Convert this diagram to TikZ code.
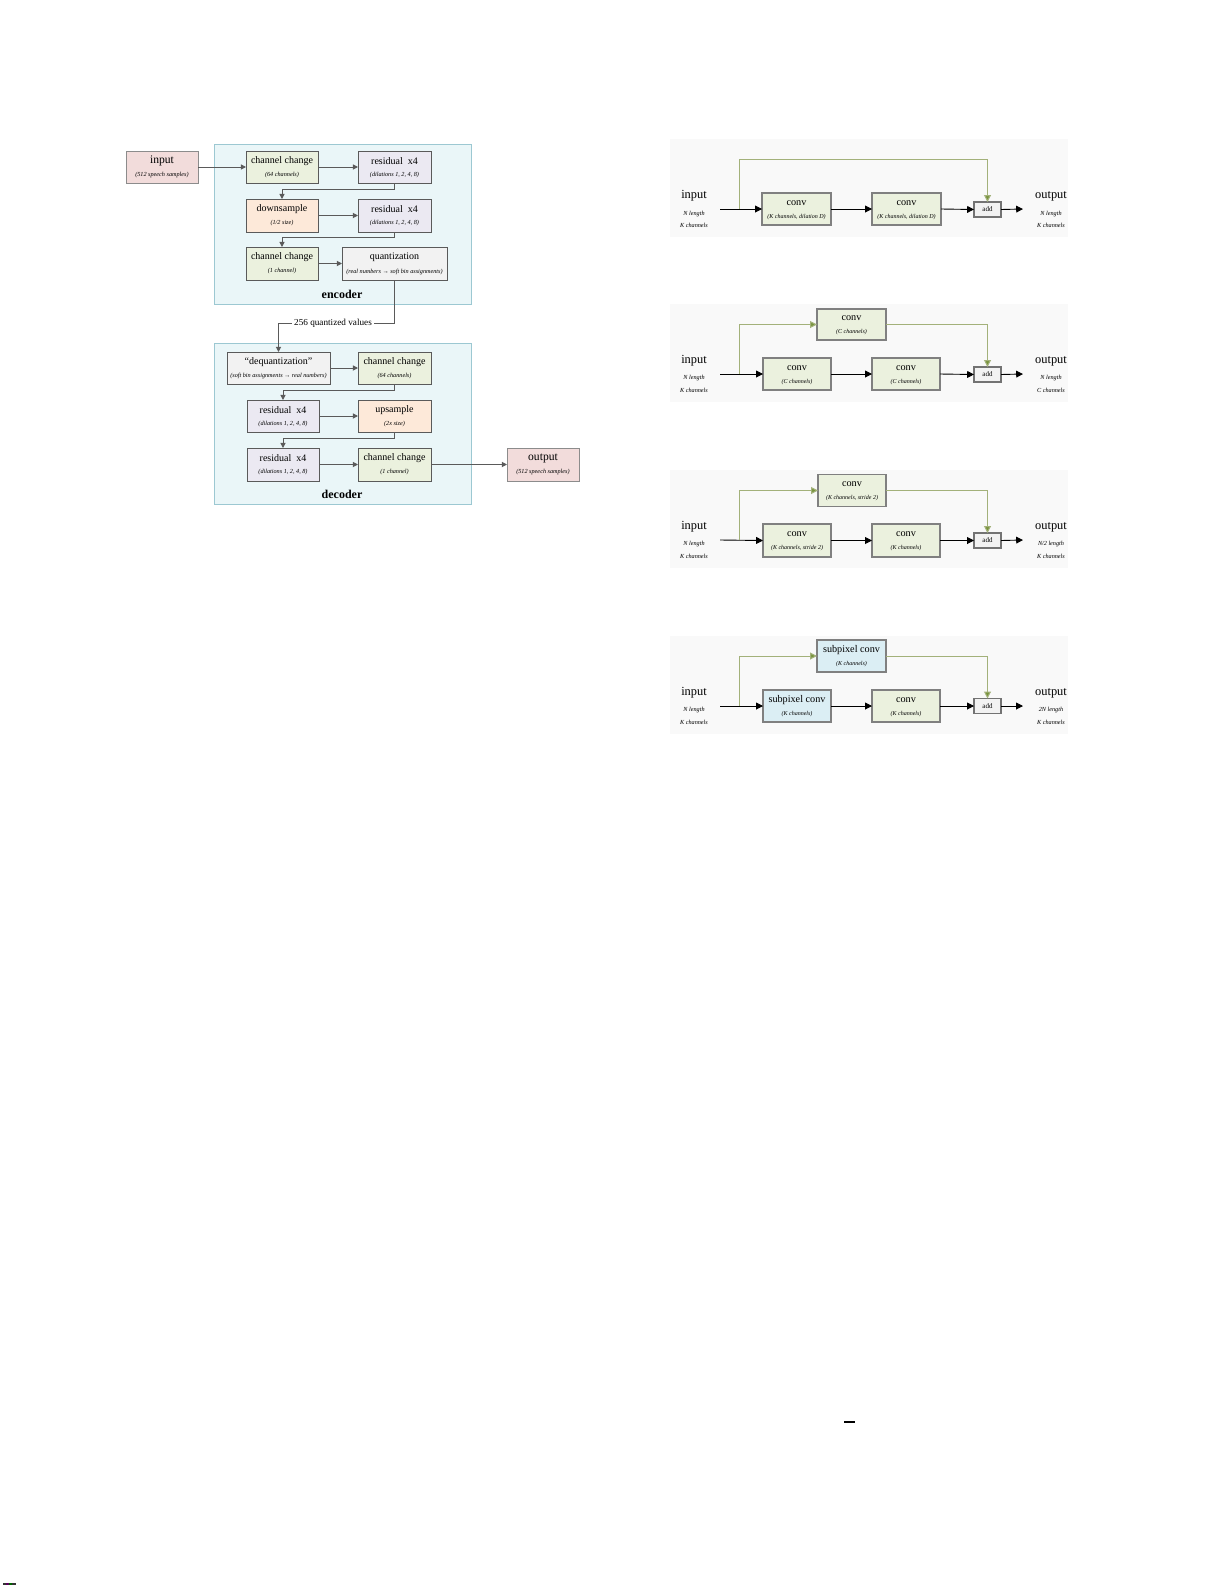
\documentclass[tikz,border=0pt]{standalone}
\usepackage{fontspec}
\setmainfont{Liberation Serif}
\usetikzlibrary{arrows.meta}
\definecolor{cpink}{HTML}{F2DCDB}
\definecolor{cgreen}{HTML}{EBF1DE}
\definecolor{clav}{HTML}{EBE9F2}
\definecolor{cpeach}{HTML}{FDE9D9}
\definecolor{cgray}{HTML}{F2F2F2}
\definecolor{ccont}{HTML}{EAF6F8}
\definecolor{ccontl}{HTML}{9CC8D2}
\definecolor{cblue}{HTML}{DBEEF4}
\definecolor{cline}{HTML}{5A5A5A}
\definecolor{colive}{HTML}{77933C}
\definecolor{colivel}{HTML}{A3B17A}
\definecolor{cpanel}{HTML}{F9F9F9}
\newcommand\fs[1]{\fontsize{#1}{#1}\selectfont}
\tikzset{
  lbox/.style={draw=cline, line width=0.5pt, inner sep=0pt, outer sep=0pt},
  rbox/.style={draw=black!50, line width=0.7pt, inner sep=0pt, outer sep=0pt},
  ltitle/.style={inner sep=0pt, font=\fs{5}},
  lsub/.style={inner sep=0pt, font=\fs{3.1}\itshape},
  rtitle/.style={inner sep=0pt, font=\fs{5.1}},
  rsub/.style={inner sep=0pt, font=\fs{3.0}\itshape},
  biglbl/.style={inner sep=0pt, font=\fs{6.2}},
  smlbl/.style={inner sep=0pt, font=\fs{3.1}\itshape},
  addbox/.style={draw=black!55,fill=cgray,line width=0.6pt,inner sep=0pt,outer sep=0pt,minimum width=27*0.5pt,minimum height=15*0.5pt,font=\fs{3.5}},
  cont/.style={draw=ccontl, fill=ccont, line width=0.5pt, inner sep=0pt, outer sep=0pt},
  larr/.style={draw=cline, line width=0.5pt, -{Triangle[length=2.6pt,width=2.6pt]}},
  lline/.style={draw=cline, line width=0.5pt},
  marr/.style={draw=black, line width=0.45pt, -{Triangle[length=3.4pt,width=3.4pt]}},
  skiparr/.style={draw=colivel, line width=0.5pt, -{Triangle[length=3.4pt,width=3.4pt,fill=colive]}},
}
% name, style, x, y, w, h, title, sub
\newcommand\mkl[8]{%
  \node[lbox,#2,minimum width=#5*0.5pt,minimum height=#6*0.5pt] (#1) at (#3,#4) {};
  \node[ltitle] (#1-t) at (#3,#4-6) {#7};
  \node[lsub] (#1-s) at (#3,#4+8) {#8};
}
\newcommand\mkr[8]{%
  \node[rbox,#2,minimum width=#5*0.5pt,minimum height=#6*0.5pt] (#1) at (#3,#4) {};
  \node[rtitle] (#1-t) at (#3,#4-6) {#7};
  \node[rsub] (#1-s) at (#3,#4+8) {#8};
}
\begin{document}
\begin{tikzpicture}[x=0.5pt,y=-0.5pt]
\useasboundingbox (0,0) rectangle (1225,1585);
\fill[white] (0,0) rectangle (1225,1585);

% ===== left: encoder / decoder =====
\node[cont,minimum width=257*0.5pt,minimum height=160*0.5pt] (enc) at (342.5,224) {};
\node[cont,minimum width=257*0.5pt,minimum height=161*0.5pt] (dec) at (342.5,423.5) {};
\node[inner sep=0pt,font=\fs{6}\bfseries] (enclbl) at (342,294) {encoder};
\node[inner sep=0pt,font=\fs{6}\bfseries] (declbl) at (342,494) {decoder};

\mkl{inp}{fill=cpink,draw=black!45}{162}{167}{72}{32}{\fs{5.8}input}{(512 speech samples)}
\mkl{cc1}{fill=cgreen}{282}{167}{72}{32}{channel change}{(64 channels)}
\mkl{res1}{fill=clav}{394.5}{167}{73}{32}{residual~ x4}{(dilations 1, 2, 4, 8)}
\mkl{dn}{fill=cpeach}{282}{215.5}{72}{33}{downsample}{(1/2 size)}
\mkl{res2}{fill=clav}{394.5}{215.5}{73}{33}{residual~ x4}{(dilations 1, 2, 4, 8)}
\mkl{cc2}{fill=cgreen}{282}{263.5}{72}{33}{channel change}{(1 channel)}
\mkl{qz}{fill=cgray}{394.5}{263.5}{105}{33}{quantization}{(real numbers → soft bin assignments)}

\mkl{dq}{fill=cgray}{278.5}{368}{103}{32}{“dequantization”}{(soft bin assignments → real numbers)}
\mkl{cc3}{fill=cgreen}{394.5}{368}{73}{32}{channel change}{(64 channels)}
\mkl{res3}{fill=clav}{283}{416}{72}{32}{residual~ x4}{(dilations 1, 2, 4, 8)}
\mkl{up}{fill=cpeach}{394.5}{416}{73}{32}{upsample}{(2x size)}
\mkl{res4}{fill=clav}{283}{464.5}{72}{33}{residual~ x4}{(dilations 1, 2, 4, 8)}
\mkl{cc4}{fill=cgreen}{394.5}{464.5}{73}{33}{channel change}{(1 channel)}
\mkl{outp}{fill=cpink,draw=black!45}{543}{464.5}{72}{33}{\fs{5.8}output}{(512 speech samples)}

\node[inner sep=1pt,font=\fs{4.6}] (qv) at (333,323.5) {256 quantized values};

\draw[larr] (inp.east) -- (cc1.west);
\draw[larr] (cc1.east) -- (res1.west);
\draw[larr] (res1.south) -- ++(0,6) -| (dn.north);
\draw[larr] (dn.east) -- (res2.west);
\draw[larr] (res2.south) -- ++(0,5.5) -| (cc2.north);
\draw[larr] (cc2.east) -- (qz.west);
\draw[lline] (qz.south) |- (qv.east);
\draw[larr] (qv.west) -| (dq.north);
\draw[larr] (dq.east) -- (cc3.west);
\draw[larr] (cc3.south) -- ++(0,6) -| (res3.north);
\draw[larr] (res3.east) -- (up.west);
\draw[larr] (up.south) -- ++(0,6) -| (res4.north);
\draw[larr] (res4.east) -- (cc4.west);
\draw[larr] (cc4.east) -- (outp.west);

% ===== right panels =====
\foreach \m in {209,374,540,706} {
  \fill[cpanel] (670,\m-70) rectangle (1068,\m+28);
}

% panel 1
\node[biglbl] (in1) at (694,196) {input};
\node[smlbl] (in1a) at (694,214) {N length};
\node[smlbl] (in1b) at (694,225) {K channels};
\node[biglbl] (o1) at (1051,196) {output};
\node[smlbl] (o1a) at (1051,214) {N length};
\node[smlbl] (o1b) at (1051,225) {K channels};
\coordinate (s1) at (720,209);
\coordinate (k1) at (739,209);
\coordinate (e1) at (1023,209);
\mkr{a1}{fill=cgreen}{796.5}{209}{69}{32}{conv}{(K channels, dilation D)}
\mkr{b1}{fill=cgreen}{906.5}{209}{69}{32}{conv}{(K channels, dilation D)}
\node[addbox] (add1) at (987.5,209.5) {add};
\draw[marr] (s1) -- (a1.west);
\draw[marr] (a1.east) -- (b1.west);
\draw[marr] (b1.east) -- (add1.west);
\draw[marr] (add1.east) -- (e1);
\draw[skiparr] (k1) -- ++(0,-50) -| (add1.north);

% panel 2
\node[biglbl] (in2) at (694,361) {input};
\node[smlbl] (in2a) at (694,378) {N length};
\node[smlbl] (in2b) at (694,390) {K channels};
\node[biglbl] (o2) at (1051,361) {output};
\node[smlbl] (o2a) at (1051,378) {N length};
\node[smlbl] (o2b) at (1051,390) {C channels};
\coordinate (s2) at (720,374);
\coordinate (k2) at (739,374);
\coordinate (e2) at (1023,374);
\mkr{t2}{fill=cgreen}{851.5}{324.5}{69}{31}{conv}{(C channels)}
\mkr{a2}{fill=cgreen}{797}{374}{68}{32}{conv}{(C channels)}
\mkr{b2}{fill=cgreen}{906}{374}{68}{32}{conv}{(C channels)}
\node[addbox] (add2) at (987.5,374.5) {add};
\draw[marr] (s2) -- (a2.west);
\draw[marr] (a2.east) -- (b2.west);
\draw[marr] (b2.east) -- (add2.west);
\draw[marr] (add2.east) -- (e2);
\draw[skiparr] (k2) |- (t2.west);
\draw[skiparr] (t2.east) -| (add2.north);

% panel 3
\node[biglbl] (in3) at (694,527) {input};
\node[smlbl] (in3a) at (694,544) {N length};
\node[smlbl] (in3b) at (694,556) {K channels};
\node[biglbl] (o3) at (1051,527) {output};
\node[smlbl] (o3a) at (1051,544) {N/2 length};
\node[smlbl] (o3b) at (1051,556) {K channels};
\coordinate (s3) at (720,540);
\coordinate (k3) at (739,540);
\coordinate (e3) at (1023,540);
\mkr{t3}{fill=cgreen}{852}{490.5}{68}{32}{conv}{(K channels, stride 2)}
\mkr{a3}{fill=cgreen}{797}{540.5}{68}{33}{conv}{(K channels, stride 2)}
\mkr{b3}{fill=cgreen}{906}{540.5}{68}{33}{conv}{(K channels)}
\node[addbox] (add3) at (987.5,540.5) {add};
\draw[marr] (s3) -- (a3.west);
\draw[marr] (a3.east) -- (b3.west);
\draw[marr] (b3.east) -- (add3.west);
\draw[marr] (add3.east) -- (e3);
\draw[skiparr] (k3) |- (t3.west);
\draw[skiparr] (t3.east) -| (add3.north);

% panel 4
\node[biglbl] (in4) at (694,693) {input};
\node[smlbl] (in4a) at (694,710) {N length};
\node[smlbl] (in4b) at (694,722) {K channels};
\node[biglbl] (o4) at (1051,693) {output};
\node[smlbl] (o4a) at (1051,710) {2N length};
\node[smlbl] (o4b) at (1051,722) {K channels};
\coordinate (s4) at (720,706);
\coordinate (k4) at (739,706);
\coordinate (e4) at (1023,706);
\mkr{t4}{fill=cblue}{851.5}{656}{69}{32}{subpixel conv}{(K channels)}
\mkr{a4}{fill=cblue}{797}{706}{68}{32}{subpixel conv}{(K channels)}
\mkr{b4}{fill=cgreen}{906}{706}{68}{32}{conv}{(K channels)}
\node[addbox] (add4) at (987.5,706) {add};
\draw[marr] (s4) -- (a4.west);
\draw[marr] (a4.east) -- (b4.west);
\draw[marr] (b4.east) -- (add4.west);
\draw[marr] (add4.east) -- (e4);
\draw[skiparr] (k4) |- (t4.west);
\draw[skiparr] (t4.east) -| (add4.north);

% small marks
\fill[black] (844,1421) rectangle (855,1423);
\fill[black!80] (3,1583) rectangle (6,1585);
\fill[violet!70!black] (6,1583) rectangle (9,1585);
\fill[green!40!black] (9,1583) rectangle (12,1585);
\fill[black!80] (12,1583) rectangle (16,1585);
\end{tikzpicture}
\end{document}
